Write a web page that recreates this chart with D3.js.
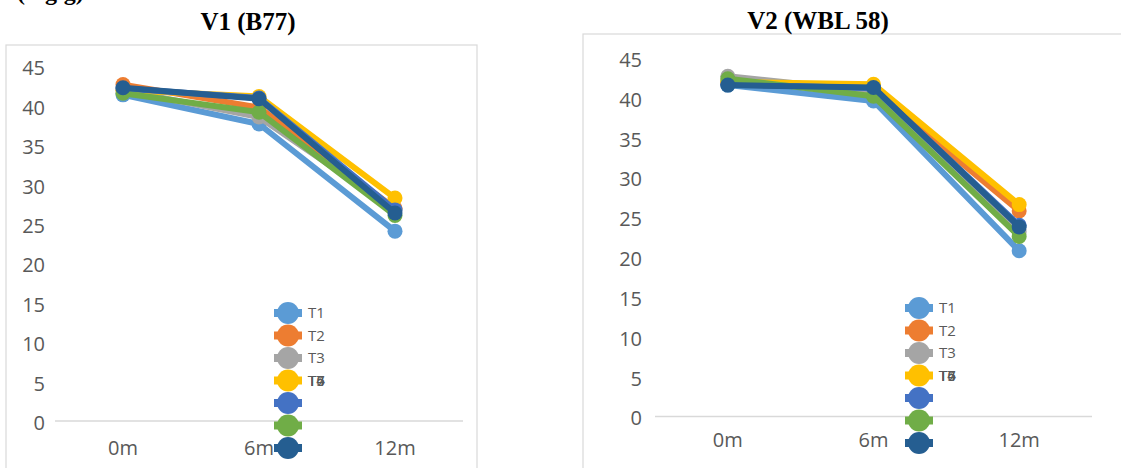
<!DOCTYPE html>
<html>
<head>
<meta charset="utf-8">
<script src="https://cdn.jsdelivr.net/npm/d3@7"></script>
<style>
  html, body { margin: 0; padding: 0; background: #fff; }
  svg { display: block; }
  .tick text { fill: #595959; font-family: "Open Sans", sans-serif; }
</style>
</head>
<body>
<svg id="chart" width="1121" height="468"></svg>
<script>
// Storage months and treatments
const months = ["0m", "6m", "12m"];
const treatments = ["T1", "T2", "T3", "T4", "T5", "T6", "T7"];
const colors = ["#5B9BD5", "#ED7D31", "#A5A5A5", "#FFC000", "#4472C4", "#70AD47", "#255E91"];
const yTicks = [0, 5, 10, 15, 20, 25, 30, 35, 40, 45];

// V1 (B77) values per treatment at 0m, 6m, 12m
const v1T1 = [41.4, 37.7, 24.1];
const v1T2 = [42.7, 39.8, 27.0];
const v1T3 = [42.0, 38.6, 26.8];
const v1T4 = [42.0, 41.2, 28.3];
const v1T5 = [42.2, 41.0, 26.8];
const v1T6 = [41.6, 39.2, 26.1];
const v1T7 = [42.3, 40.9, 26.4];

// V2 (WBL 58) values per treatment at 0m, 6m, 12m
const v2T1 = [41.6, 39.6, 20.8];
const v2T2 = [42.0, 41.0, 25.8];
const v2T3 = [42.7, 40.8, 23.2];
const v2T4 = [42.0, 41.7, 26.6];
const v2T5 = [41.7, 41.2, 24.0];
const v2T6 = [42.4, 40.2, 22.6];
const v2T7 = [41.6, 41.3, 23.8];

const v1Series = [v1T1, v1T2, v1T3, v1T4, v1T5, v1T6, v1T7];
const v2Series = [v2T1, v2T2, v2T3, v2T4, v2T5, v2T6, v2T7];

const svg = d3.select("#chart");

// heading above the panels, mostly above the top edge
svg.append("text")
  .attr("x", 17).attr("y", 0)
  .attr("font-family", "Liberation Serif, serif")
  .attr("font-weight", "bold").attr("font-size", 24)
  .attr("fill", "#000")
  .text("(mg/g)");

function panel(cfg) {
  const g = svg.append("g");

  // frame
  g.append("rect")
    .attr("x", cfg.frame[0]).attr("y", cfg.frame[1])
    .attr("width", cfg.frame[2]).attr("height", cfg.frame[3])
    .attr("fill", "#fff").attr("stroke", "#d9d9d9").attr("stroke-width", 1.2);

  // title
  g.append("text")
    .attr("x", cfg.titleX).attr("y", cfg.titleY)
    .attr("text-anchor", "middle")
    .attr("font-family", "Liberation Serif, serif")
    .attr("font-weight", "bold").attr("font-size", 25)
    .attr("fill", "#000")
    .text(cfg.title);

  const x = d3.scaleBand().domain(months).range([cfg.x0, cfg.x1]);
  const y = d3.scaleLinear().domain([0, 45]).range([cfg.y0, cfg.y45]);
  const cx = m => x(m) + x.bandwidth() / 2;

  // y axis labels
  const ya = g.append("g")
    .attr("transform", `translate(${cfg.x0},0)`)
    .call(d3.axisLeft(y).tickValues(yTicks).tickSize(0).tickPadding(cfg.yPad));
  ya.select(".domain").remove();
  ya.selectAll("text").attr("font-size", 20).attr("dy", "0.42em");

  // baseline at zero
  g.append("line")
    .attr("x1", cfg.x0).attr("x2", cfg.x1)
    .attr("y1", y(0)).attr("y2", y(0))
    .attr("stroke", "#d9d9d9").attr("stroke-width", 1.5);

  // x axis labels
  const xa = g.append("g")
    .attr("transform", `translate(0,${y(0)})`)
    .call(d3.axisBottom(x).tickSize(0).tickPadding(cfg.xPad));
  xa.select(".domain").remove();
  xa.selectAll("text").attr("font-size", 20);

  // series lines and markers
  const line = d3.line().x((d, i) => cx(months[i])).y(d => y(d));
  cfg.series.forEach((vals, k) => {
    g.append("path")
      .attr("d", line(vals))
      .attr("fill", "none")
      .attr("stroke", colors[k])
      .attr("stroke-width", 6)
      .attr("stroke-linejoin", "round");
    g.selectAll(null).data(vals).enter().append("circle")
      .attr("cx", (d, i) => cx(months[i]))
      .attr("cy", d => y(d))
      .attr("r", 7.5)
      .attr("fill", colors[k]);
  });

  // legend: seven markers stacked, labels from T4 onward share one row
  const lg = g.append("g");
  treatments.forEach((t, k) => {
    const ly = cfg.legY + k * cfg.legStep;
    lg.append("line")
      .attr("x1", cfg.legX - 14).attr("x2", cfg.legX + 14)
      .attr("y1", ly).attr("y2", ly)
      .attr("stroke", colors[k]).attr("stroke-width", 8);
    lg.append("circle")
      .attr("cx", cfg.legX).attr("cy", ly).attr("r", 11)
      .attr("fill", colors[k]);
    const row = Math.min(k, 3);
    lg.append("text")
      .attr("x", cfg.legX + 20)
      .attr("y", cfg.legY + row * cfg.legStep)
      .attr("dy", "0.36em")
      .attr("font-family", "Open Sans, sans-serif")
      .attr("font-size", 15)
      .attr("fill", "#595959")
      .text(t);
  });
}

panel({
  title: "V1 (B77)", titleX: 248, titleY: 30,
  frame: [6, 45, 471, 440],
  x0: 55, x1: 463, y0: 421, y45: 66.5, yPad: 10, xPad: 20,
  series: v1Series,
  legX: 288, legY: 313, legStep: 22.5
});

panel({
  title: "V2 (WBL 58)", titleX: 818, titleY: 29,
  frame: [583, 34, 560, 450],
  x0: 655, x1: 1092, y0: 416.5, y45: 58, yPad: 13, xPad: 16,
  series: v2Series,
  legX: 919, legY: 308, legStep: 22.5
});
</script>
</body>
</html>
